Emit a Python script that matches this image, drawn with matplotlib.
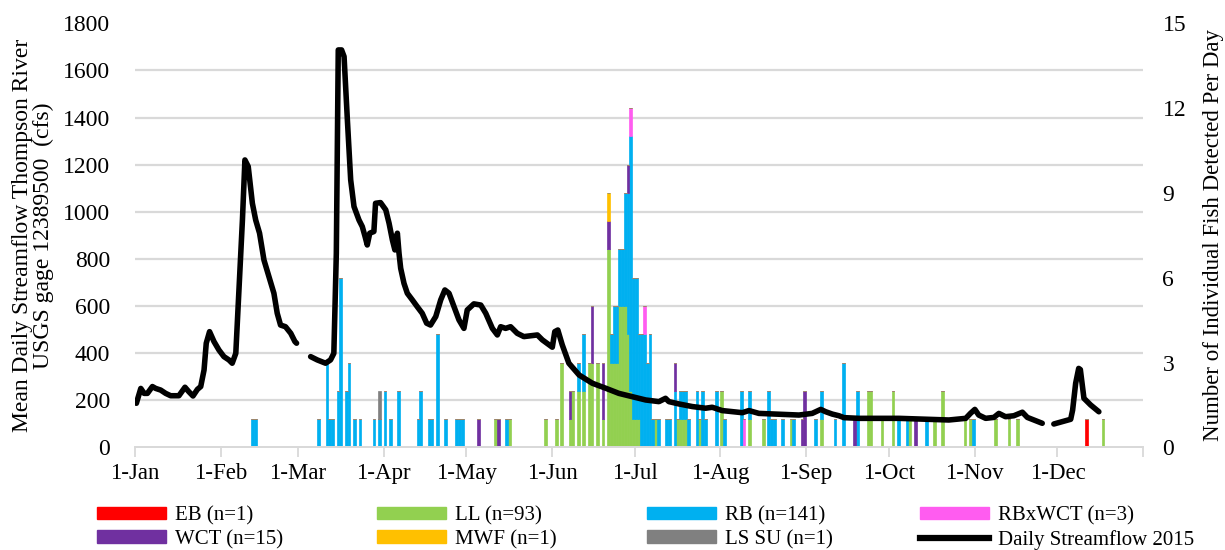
import numpy as np
import matplotlib.pyplot as plt
from matplotlib.patches import Patch
from matplotlib.lines import Line2D

plt.rcParams['font.family'] = ['Liberation Serif', 'DejaVu Serif']

# day index: 0 = 1 Jan 2015
months = [0, 31, 59, 90, 120, 151, 181, 212, 243, 273, 304, 334, 365]
month_labels = ['1-Jan', '1-Feb', '1-Mar', '1-Apr', '1-May', '1-Jun',
                '1-Jul', '1-Aug', '1-Sep', '1-Oct', '1-Nov', '1-Dec']

# fish detections per day by species
eb_days = [344]
eb_n = [1]

ll_days = [130, 135, 148, 152, 154, 157, 158, 160, 162, 164, 165, 167, 169,
           171, 172, 173, 174, 175, 176, 177, 178, 179, 180, 181, 182, 188,
           196, 197, 198, 199, 204, 212, 222, 227, 237, 248, 265, 266, 270,
           274, 280, 289, 292, 300, 302, 311, 316, 319, 350]
ll_n = [1, 1, 1, 1, 3, 1, 2, 2, 2, 3, 3, 3, 1,
        7, 3, 3, 3, 5, 5, 5, 4, 2, 1, 1, 1, 1,
        1, 1, 1, 1, 1, 2, 1, 1, 1, 1, 2, 2, 1,
        2, 1, 1, 2, 1, 1, 1, 1, 1, 1]

rb_days = [42, 43, 66, 69, 70, 71, 73, 74, 76, 77, 79, 81, 86, 88, 90, 92, 95,
           102, 103, 106, 107, 109, 112, 116, 117, 118, 134, 160, 162,
           172, 173, 174, 175, 176, 177, 178, 179, 180, 181, 182, 183, 184,
           185, 186, 187, 189, 192, 193, 195, 197, 198, 199, 200, 203, 205,
           206, 210, 213, 219, 222, 229, 230, 231, 234, 238, 246, 248, 253,
           256, 261, 276, 279, 286, 303]
rb_n = [1, 1, 1, 3, 1, 1, 2, 6, 2, 3, 1, 1, 1, 1, 2, 1, 2,
        1, 2, 1, 1, 4, 1, 1, 1, 1, 1, 1, 2,
        1, 2, 2, 2, 2, 4, 5, 9, 5, 5, 3, 4, 4,
        3, 4, 1, 1, 1, 1, 2, 1, 1, 1, 1, 2, 2,
        1, 2, 1, 2, 1, 2, 1, 1, 1, 1, 1, 1, 1,
        3, 2, 1, 1, 1, 1]

rbxwct_days = [179, 184, 220]
rbxwct_n = [1, 1, 1]

wct_days = [124, 131, 157, 165, 169, 171, 178, 195, 241, 242, 260, 282]
wct_n = [1, 1, 1, 2, 2, 1, 1, 1, 1, 2, 1, 1]

mwf_days = [171]
mwf_n = [1]

lssu_days = [88]
lssu_n = [1]

# daily mean streamflow (cfs), nan where the gage has no record
flow_day = [0, 1.6, 2.8, 4, 5.8, 7, 8.8, 10.6, 12.4, 15.4, 17.6, 19, 20.5,
            22.1, 23.3, 24.5, 25.3, 26.5, 28.1, 29.9, 31.7, 33.5, 34.7, 36,
            36.9, 38.4, 39.3, 40.5, 42, 43.2, 44.6, 46.2, 48, 49.8, 51, 52.2,
            54, 55.9, 57.4, 58, 60,
            63.1, 65.5, 68.5, 70.3, 71.5, 72.4, 73.1, 74.3, 75.2, 76.4, 77.6,
            78.8, 80.6, 81.8, 82.8, 83.6, 84.5, 86, 86.6, 88.4, 90.3, 91.5,
            92.7, 93.6, 94.5, 95.1, 95.7, 96.9, 98.1, 99.9, 101.7, 103.5,
            105.1, 106.5, 108.4, 110.2, 111.7, 113.2, 115, 116.8, 118.6,
            119.8, 122.2, 124.7, 126.5, 128.9, 130.7, 131.9, 133.7, 135.5,
            137.9, 140.3, 145.2, 147, 149.4, 150.6, 151.5, 152.6, 154.2,
            156.6, 160.3, 165.1, 169.9, 174.7, 179.5, 184.4, 189.2, 191.6,
            192.8, 196.5, 201.3, 206.1, 208.5, 212.1, 219.4, 221.8, 225.4,
            239.9, 244.7, 247.8, 249.6, 252, 254.4, 256.2, 261.6, 276.1,
            294.2, 300.3, 302, 303.6, 305, 307.5, 310.5, 312.3, 314.7, 317.7,
            320.8, 322.6, 325, 328, 330,
            332.2, 335.2, 338.3, 339, 340.1, 341.2, 341.8, 343.1, 345.5,
            348.5]
flow_cfs = [187, 250, 229, 229, 258, 250, 243, 229, 219, 219, 255, 236, 218,
            246, 258, 328, 442, 491, 449, 413, 385, 371, 357, 399,
            611, 965, 1220, 1192, 1036, 965, 909, 795, 725, 654, 569, 519,
            512, 484, 449, 442, np.nan,
            385, 371, 357, 371, 399, 824, 1687, 1687, 1659, 1390, 1135,
            1022, 965, 937, 895, 859, 909, 916, 1036, 1039, 1008, 951,
            880, 838, 909, 824, 760, 696, 654, 626, 597, 569,
            527, 519, 555, 626, 668, 654, 597, 541, 505,
            583, 609, 604, 569, 505, 477, 512, 505, 512,
            484, 470, 477, 456, 435, 425, 491, 498, 435,
            357, 307, 272, 251, 229, 215, 201, 194, 208,
            194, 184, 173, 166, 170, 156, 147, 156, 144,
            137, 144, 161, 151, 141, 134, 126, 123, 123,
            116, 123, 144, 161, 137, 123, 127, 144, 130, 134,
            149, 127, 116, 102, np.nan,
            99, 109, 119, 158, 272, 335, 330, 208, 180,
            151]

species = [
    ('EB (n=1)', eb_days, eb_n, '#ff0000'),
    ('LL (n=93)', ll_days, ll_n, '#92d050'),
    ('RB (n=141)', rb_days, rb_n, '#00b0f0'),
    ('RBxWCT (n=3)', rbxwct_days, rbxwct_n, '#ff5cf0'),
    ('WCT (n=15)', wct_days, wct_n, '#7030a0'),
    ('MWF (n=1)', mwf_days, mwf_n, '#ffc000'),
    ('LS SU (n=1)', lssu_days, lssu_n, '#808080'),
]

fig = plt.figure(figsize=(12.25, 5.5), dpi=100)
ax = fig.add_axes([0.1102, 0.1867, 0.8229, 0.7709])
ax2 = ax.twinx()
ax.set_zorder(2)
ax2.set_zorder(1)
ax.patch.set_visible(False)

# stacked daily bars on the fish axis
x = np.arange(365) + 0.5
bottom = np.zeros(365)
for label, days, n, color in species:
    counts = np.zeros(365)
    np.add.at(counts, np.array(days), np.array(n))
    ax2.bar(x, counts, width=1.0, bottom=bottom, color=color,
            edgecolor=color, linewidth=0.5, zorder=2)
    bottom += counts

ax.plot(np.array(flow_day) + 0.5, flow_cfs, color='black', lw=4,
        solid_joinstyle='round', solid_capstyle='round', zorder=3)

grey = '#d9d9d9'
ax.set_xlim(0, 365)
ax.set_ylim(0, 1800)
ax2.set_ylim(0, 15)
ax.set_yticks(np.arange(0, 1801, 200))
ax2.set_yticks(np.arange(0, 16, 3))
ax2.set_yticks(np.arange(0, 1801, 200) / 120.0, minor=True)
ax2.grid(which='minor', axis='y', color=grey, lw=1.6, zorder=0)
ax2.tick_params(which='minor', length=0)

ax.set_xticks(months)
ax.set_xticklabels(month_labels + [''])
ax.tick_params(axis='x', length=7, width=1.3, color=grey, pad=4,
               labelsize=16.5)
ax.tick_params(axis='y', length=0, labelsize=17, pad=18)
ax2.tick_params(axis='y', length=0, labelsize=17, pad=14)

for a in (ax, ax2):
    for s in ('top', 'left', 'right'):
        a.spines[s].set_visible(False)
    a.spines['bottom'].set_color(grey)
    a.spines['bottom'].set_linewidth(1.3)

ax.set_ylabel('Mean Daily Streamflow Thompson River\nUSGS gage 12389500  (cfs)',
              fontsize=17, linespacing=1.0, labelpad=6)
ax2.set_ylabel('Number of Individual Fish Detected Per Day', fontsize=16.5,
               labelpad=12)

# legend laid out in four columns of two rows
handles = [Patch(color=c, label=l) for l, _, _, c in species]
handles.append(Line2D([], [], color='black', lw=4.5,
                      label='Daily Streamflow 2015'))
col_x = [97, 377, 647, 920]
for i, cx in enumerate(col_x):
    fig.legend(handles=[handles[i], handles[i + 4]], loc='upper left',
               bbox_to_anchor=(cx / 1225, 1 - 506 / 550), frameon=False,
               fontsize=15, handlelength=3.3, handleheight=0.55,
               handletextpad=0.45, labelspacing=0.22, borderpad=0,
               borderaxespad=0)

fig.savefig('out.png', dpi=100)
